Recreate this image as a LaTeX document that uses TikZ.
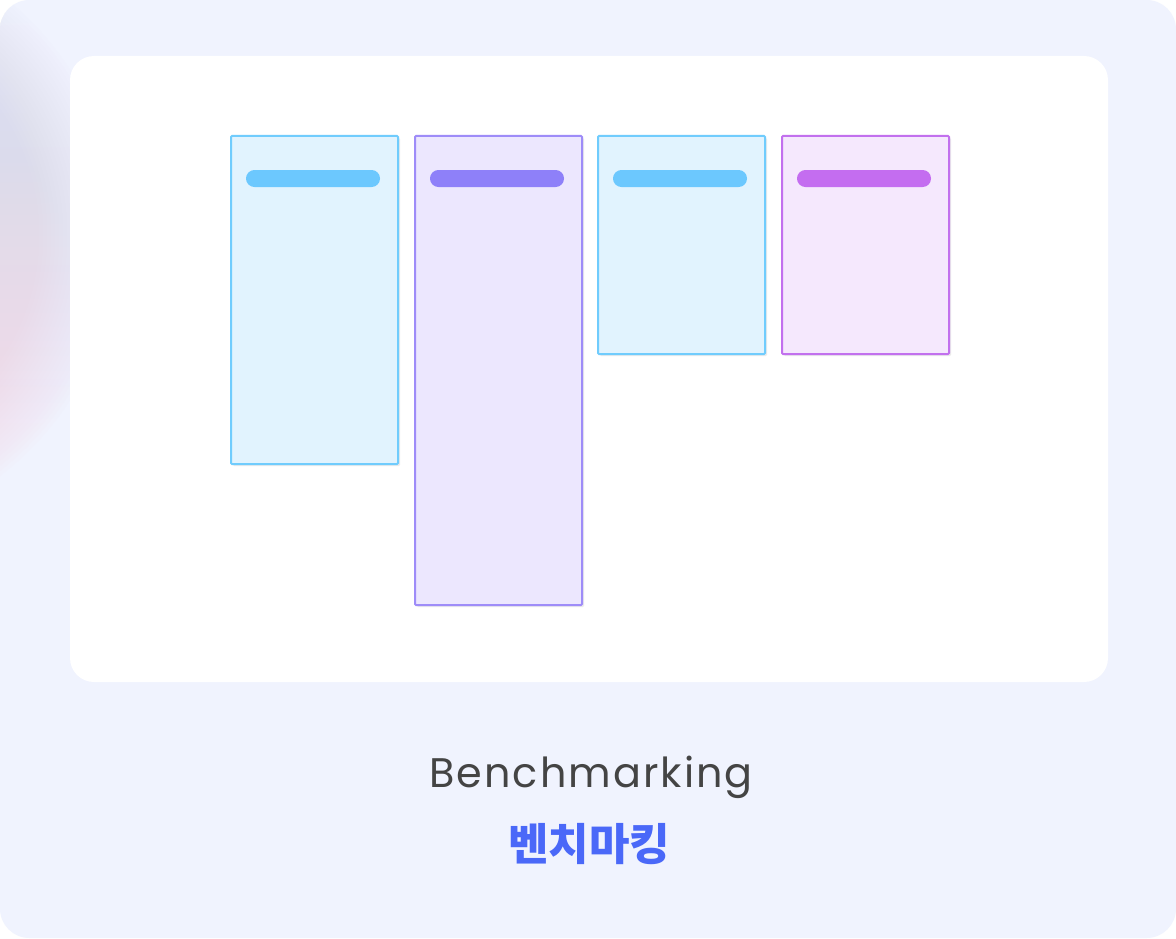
\documentclass[tikz,border=0pt]{standalone}
\usepackage{fontspec}
\setmainfont{Poppins}
\newfontfamily\koreai{Noto Sans CJK KR}
\usetikzlibrary{shadows}
\definecolor{hatterszin}{HTML}{F0F3FE}
\definecolor{szoveg}{HTML}{444444}
\definecolor{kekbetu}{HTML}{4A68F8}
\definecolor{kek-belso}{HTML}{E1F3FE}
\definecolor{kek-keret}{HTML}{70CCFD}
\definecolor{kek-csik}{HTML}{6CC8FE}
\definecolor{lila-belso}{HTML}{ECE7FE}
\definecolor{lila-keret}{HTML}{9E8CF8}
\definecolor{lila-csik}{HTML}{8E80F9}
\definecolor{ibolya-belso}{HTML}{F5E8FD}
\definecolor{ibolya-keret}{HTML}{C270EE}
\definecolor{ibolya-csik}{HTML}{C46DF0}
\tikzset{
  keret/.style={fill=hatterszin,rounded corners=22pt},
  lap/.style={fill=white,rounded corners=18pt},
  kartya/.style={line width=1.5pt,rounded corners=0.8pt,
    drop shadow={shadow xshift=1.5pt,shadow yshift=-1.5pt,opacity=0.08,fill=black}},
  csik/.style={rounded corners=6.3pt},
}

\begin{document}
\begin{tikzpicture}[x=0.75pt,y=-0.75pt]
  \useasboundingbox (0,0) rectangle (1176,938);
  \fill[white] (0,0) rectangle (1176,938);
  \fill[keret] (0,0) rectangle (1176,938);
  % elmosodott folt a bal szelen
  \begin{scope}
    \clip[rounded corners=22pt] (0,0) rectangle (1176,938);
    \foreach \r in {304,300,...,224} {
      \shade[top color={rgb,255:red,205;green,214;blue,246},
             bottom color={rgb,255:red,248;green,204;blue,216},
             fill opacity=0.035] (-185,235) circle (\r);
    }
  \end{scope}
  \fill[lap] (70,56) rectangle (1108,682);
  \foreach \x/\y/\szin in {231/464/kek, 415/605/lila, 598/354/kek, 782/354/ibolya} {
    \draw[kartya,draw=\szin-keret,fill=\szin-belso] (\x,136) rectangle (\x+167,\y);
    \fill[csik,\szin-csik] (\x+15,170) rectangle (\x+149,187);
  }
  \node[font=\addfontfeature{LetterSpace=5}\fontsize{31}{37}\selectfont,text=szoveg] (angol) at (591,777) {Benchmarking};
  \node[font=\koreai\bfseries\fontsize{33}{40}\selectfont,text=kekbetu] (koreai) at (589,844) {벤치마킹};
\end{tikzpicture}
\end{document}
